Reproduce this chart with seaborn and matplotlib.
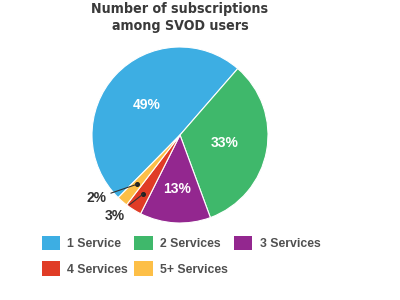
import matplotlib
matplotlib.use("Agg")
import matplotlib.pyplot as plt
import seaborn as sns
import numpy as np
from matplotlib.patches import Patch
from matplotlib import font_manager

# Data
categories = ["1 Service", "2 Services", "3 Services", "4 Services", "5+ Services"]
shares = [49, 33, 13, 3, 2]
colors_hex = ["#3DAEE3", "#3FB86B", "#93278F", "#E03C26", "#FDBF47"]

sns.set_theme(style="white")
plt.rcParams['font.family'] = ['Liberation Sans', 'DejaVu Sans']
palette = sns.color_palette(colors_hex)

names = {f.name for f in font_manager.fontManager.ttflist}
title_family = ["Liberation Sans Narrow"] if "Liberation Sans Narrow" in names else ["DejaVu Sans"]

fig = plt.figure(figsize=(4, 3), dpi=100)
fig.patch.set_facecolor("white")

cx, cy, r = 180 / 400, 1 - 135 / 300, 88
ax = fig.add_axes([cx - r / 400, cy - r / 300, 2 * r / 400, 2 * r / 300])

wedges, texts = ax.pie(
    shares, colors=palette, startangle=225.4, counterclock=False,
    radius=1, wedgeprops=dict(edgecolor="white", linewidth=0.8),
)
ax.set_xlim(-1, 1)
ax.set_ylim(-1, 1)
ax.set_aspect("equal")
ax.axis("off")

inner_r = {0: 0.51, 1: 0.52, 2: 0.62}
for i, w in enumerate(wedges):
    mid = np.deg2rad((w.theta1 + w.theta2) / 2)
    if shares[i] >= 5:
        rr = inner_r.get(i, 0.55)
        ax.text(rr * np.cos(mid), rr * np.sin(mid), f"{shares[i]}%",
                ha="center", va="center", color="white",
                fontsize=10, fontweight="bold")

offsets = {3: (-28, -22), 4: (-41, -14)}
dot_r = {3: 0.79, 4: 0.74}
for i in (3, 4):
    w = wedges[i]
    mid = np.deg2rad((w.theta1 + w.theta2) / 2)
    x, y = dot_r[i] * np.cos(mid), dot_r[i] * np.sin(mid)
    ax.plot([x], [y], "o", color="#222222", markersize=2.6)
    ax.annotate(f"{shares[i]}%", xy=(x, y), xytext=offsets[i],
                textcoords="offset pixels", ha="center", va="center",
                fontsize=10, fontweight="bold", color="#333333",
                arrowprops=dict(arrowstyle="-", color="#333333", lw=0.8,
                                shrinkA=1, shrinkB=0))

fig.text(0.45, 1 - 2 / 300, "Number of subscriptions\namong SVOD users",
         ha="center", va="top", fontsize=10.2, fontweight="bold",
         fontstretch="condensed", color="#3a3a3a", linespacing=1.25,
         family=title_family)

handles = [Patch(facecolor=palette[i], edgecolor="none", label=categories[i])
           for i in range(len(categories))]
order = [0, 3, 1, 4, 2]
fig.legend([handles[i] for i in order], [categories[i] for i in order],
           ncol=3, loc="upper left", bbox_to_anchor=(38 / 400 - 0.012, 1 - 227 / 300),
           frameon=False, labelcolor="#505050",
           prop=dict(size=8.8, weight="semibold"),
           handlelength=1.5, handleheight=1.5, handletextpad=0.6,
           columnspacing=0.5, labelspacing=0.9, borderpad=0.2)

fig.savefig("out.png", dpi=100, facecolor="white")
